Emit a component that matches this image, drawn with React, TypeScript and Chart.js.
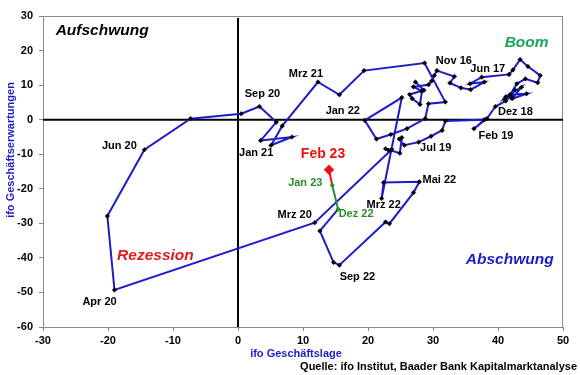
import React, { useEffect, useRef } from 'react';
import { Chart, registerables } from 'chart.js';

Chart.register(...registerables);

// ---- Data (ifo Geschäftslage vs. Geschäftserwartungen, Salden) ----
const months = [
  'Jan 16', 'Feb 16', 'Mrz 16', 'Apr 16', 'Mai 16', 'Jun 16', 'Jul 16', 'Aug 16', 'Sep 16', 'Okt 16', 'Nov 16', 'Dez 16',
  'Jan 17', 'Feb 17', 'Mrz 17', 'Apr 17', 'Mai 17', 'Jun 17', 'Jul 17', 'Aug 17', 'Sep 17', 'Okt 17', 'Nov 17', 'Dez 17',
  'Jan 18', 'Feb 18', 'Mrz 18', 'Apr 18', 'Mai 18', 'Jun 18', 'Jul 18', 'Aug 18', 'Sep 18', 'Okt 18', 'Nov 18', 'Dez 18',
  'Jan 19', 'Feb 19', 'Mrz 19', 'Apr 19', 'Mai 19', 'Jun 19', 'Jul 19', 'Aug 19', 'Sep 19', 'Okt 19', 'Nov 19', 'Dez 19',
  'Jan 20', 'Feb 20', 'Mrz 20', 'Apr 20', 'Mai 20', 'Jun 20', 'Jul 20', 'Aug 20', 'Sep 20', 'Okt 20', 'Nov 20', 'Dez 20',
  'Jan 21', 'Feb 21', 'Mrz 21', 'Apr 21', 'Mai 21', 'Jun 21', 'Jul 21', 'Aug 21', 'Sep 21', 'Okt 21', 'Nov 21', 'Dez 21',
  'Jan 22', 'Feb 22', 'Mrz 22', 'Apr 22', 'Mai 22', 'Jun 22', 'Jul 22', 'Aug 22', 'Sep 22', 'Okt 22', 'Nov 22', 'Dez 22',
  'Jan 23', 'Feb 23',
];

const geschaeftslage = [
  27.3, 28.6, 26.4, 26.8, 28.0, 28.3, 27.0, 29.3, 29.8, 30.2, 30.6, 33.3,
  32.6, 34.3, 35.8, 37.9, 35.7, 37.5, 41.7, 42.3, 43.4, 44.6, 46.5, 46.1,
  44.2, 42.9, 41.9, 44.4, 42.2, 43.6, 41.2, 42.6, 41.0, 42.0, 41.2, 39.6,
  38.3, 36.3, 37.9, 31.9, 31.4, 29.7, 27.8, 25.6, 24.8, 25.2, 24.9, 22.7,
  23.2, 23.6, 11.8, -19.0, -20.1, -14.4, -7.3, 0.5, 3.3, 5.9, 3.5, 8.3,
  5.1, 6.8, 12.3, 15.6, 19.4, 28.7, 31.9, 29.3, 28.8, 26.0, 23.5, 21.3,
  19.5, 25.2, 22.1, 22.4, 27.9, 27.0, 23.3, 22.7, 15.6, 14.7, 12.6, 15.4,
  14.5, 14.0,
];

const erwartungen = [
  10.9, 8.5, 7.3, 6.1, 4.4, 8.3, 9.5, 10.1, 11.2, 12.8, 14.2, 12.5,
  10.6, 9.2, 8.7, 10.9, 10.4, 12.3, 13.1, 14.4, 17.4, 15.4, 12.8, 10.7,
  11.8, 10.4, 7.3, 7.5, 6.1, 9.4, 6.6, 8.6, 6.0, 6.8, 5.4, 3.8,
  0.3, -2.6, 0.0, -0.4, -3.1, -4.8, -6.5, -7.4, -5.6, -5.2, -9.7, -8.4,
  -8.9, -8.7, -29.8, -49.3, -27.9, -8.7, 0.3, 1.7, 3.8, -0.7, -6.0, -5.0,
  -7.4, -1.8, 10.9, 7.2, 14.2, 16.4, 5.1, 4.6, 0.3, -2.6, -4.3, -5.6,
  -0.2, 6.4, -22.8, -18.2, -18.0, -21.1, -30.1, -29.6, -42.1, -41.3, -32.2, -25.9,
  -19.0, -14.5,
];

const xTicks = [-30, -20, -10, 0, 10, 20, 30, 40, 50];
const yTicks = [-60, -50, -40, -30, -20, -10, 0, 10, 20, 30];

const labelledMonths = ['Sep 20', 'Jun 20', 'Jan 21', 'Mrz 21', 'Jan 22', 'Nov 16', 'Jun 17', 'Dez 18', 'Feb 19', 'Jul 19', 'Mai 22', 'Mrz 22', 'Mrz 20', 'Sep 22', 'Apr 20'];
const greenMonths = ['Dez 22', 'Jan 23'];
const latestMonth = 'Feb 23';

const quadrantTexts = ['Aufschwung', 'Boom', 'Rezession', 'Abschwung'];
const xTitle = 'ifo Geschäftslage';
const yTitle = 'ifo Geschäftserwartungen';
const sourceText = 'Quelle: ifo Institut, Baader Bank Kapitalmarktanalyse';

// ---- Styles ----
const FONT = '"Liberation Sans", Arial, Helvetica, sans-serif';
const BLUE = '#1c1cc9';
const GREEN = '#2a8c2a';
const BOOM_GREEN = '#1aa65a';
const RED = '#ee1111';
const GRAY = '#8a8a8a';

// label offsets in pixels relative to the anchor point (text centre)
const labelOffsets: Record<string, [number, number]> = {
  'Sep 20': [3, -13],
  'Jun 20': [-25, -4],
  'Jan 21': [-15, 8],
  'Mrz 21': [-12, -8],
  'Jan 22': [-22, -9],
  'Nov 16': [17, -10],
  'Jun 17': [6, -8],
  'Dez 18': [20, 5],
  'Feb 19': [22, 7],
  'Jul 19': [17, 6],
  'Mai 22': [20, -2],
  'Mrz 22': [2, 7],
  'Mrz 20': [-20, -8],
  'Sep 22': [18, 12],
  'Apr 20': [-15, 12],
  'Dez 22': [18, 5],
  'Jan 23': [-27, -2],
  'Feb 23': [-6, -16],
};

// quadrant text placement in data space (centre)
const quadrantPos: Record<string, { x: number; y: number; color: string }> = {
  Aufschwung: { x: -20.9, y: 25.6, color: '#000000' },
  Boom: { x: 44.4, y: 22.4, color: BOOM_GREEN },
  Rezession: { x: -12.7, y: -39.5, color: '#e01a1a' },
  Abschwung: { x: 41.8, y: -40.4, color: BLUE },
};

export default function App() {
  const canvasRef = useRef<HTMLCanvasElement | null>(null);

  useEffect(() => {
    const canvas = canvasRef.current;
    if (!canvas) return;

    const idxDez22 = months.indexOf('Dez 22');
    const idxJan23 = months.indexOf('Jan 23');
    const idxFeb23 = months.indexOf(latestMonth);

    const pointColors = months.map((m, i) =>
      i === idxFeb23 ? RED : greenMonths.includes(m) ? GREEN : '#000000'
    );

    const overlay = {
      id: 'overlay',
      beforeDatasetsDraw(chart: any) {
        const { ctx, chartArea: a, scales } = chart;
        const x0 = scales.x.getPixelForValue(0);
        const y0 = scales.y.getPixelForValue(0);
        ctx.save();
        ctx.strokeStyle = GRAY;
        ctx.lineWidth = 1;
        ctx.strokeRect(a.left + 0.5, a.top + 0.5, a.right - a.left - 1, a.bottom - a.top);
        ctx.strokeStyle = '#000000';
        ctx.lineWidth = 2;
        ctx.beginPath();
        ctx.moveTo(x0, a.top + 2);
        ctx.lineTo(x0, a.bottom);
        ctx.moveTo(a.left, y0);
        ctx.lineTo(a.right, y0);
        ctx.stroke();
        ctx.restore();
      },
      afterDraw(chart: any) {
        const { ctx, scales } = chart;
        const px = (i: number) => scales.x.getPixelForValue(geschaeftslage[i]);
        const py = (i: number) => scales.y.getPixelForValue(erwartungen[i]);
        ctx.save();
        ctx.textAlign = 'center';
        ctx.textBaseline = 'middle';

        const drawLabel = (m: string, color: string, size: number) => {
          const i = months.indexOf(m);
          const off = labelOffsets[m] || [0, -10];
          ctx.font = `bold ${size}px ${FONT}`;
          ctx.fillStyle = color;
          ctx.fillText(m, px(i) + off[0], py(i) + off[1]);
        };
        labelledMonths.forEach((m) => drawLabel(m, '#000000', 11));
        greenMonths.forEach((m) => drawLabel(m, GREEN, 11));
        drawLabel(latestMonth, RED, 14);

        quadrantTexts.forEach((t) => {
          const q = quadrantPos[t];
          ctx.font = `italic bold 15.5px ${FONT}`;
          ctx.fillStyle = q.color;
          ctx.fillText(t, scales.x.getPixelForValue(q.x), scales.y.getPixelForValue(q.y));
        });

        ctx.font = `bold 11px ${FONT}`;
        ctx.fillStyle = BLUE;
        ctx.fillText(xTitle, 296, 354);

        ctx.save();
        ctx.translate(11, 150);
        ctx.rotate(-Math.PI / 2);
        ctx.fillText(yTitle, 0, 0);
        ctx.restore();

        ctx.fillStyle = '#000000';
        ctx.textAlign = 'right';
        ctx.fillText(sourceText, 577, 367);
        ctx.restore();
      },
    };

    const chart = new Chart(canvas, {
      type: 'scatter',
      data: {
        datasets: [
          {
            data: months.map((m, i) => ({ x: geschaeftslage[i], y: erwartungen[i] })),
            showLine: true,
            borderColor: BLUE,
            borderWidth: 2,
            tension: 0,
            segment: {
              borderColor: (c: any) =>
                c.p0DataIndex >= idxJan23 ? RED : c.p0DataIndex >= idxDez22 ? GREEN : BLUE,
            },
            pointStyle: 'rectRot',
            pointRadius: months.map((m, i) => (i === idxFeb23 ? 5 : 2.3)),
            pointBackgroundColor: pointColors,
            pointBorderColor: pointColors,
            pointBorderWidth: 0.5,
          } as any,
        ],
      },
      options: {
        animation: false,
        responsive: false,
        devicePixelRatio: 1,
        layout: { padding: { top: 16, right: 17, left: 0, bottom: 0 } },
        plugins: {
          legend: { display: false },
          tooltip: { enabled: false },
          title: { display: false },
        },
        scales: {
          x: {
            type: 'linear',
            min: -30,
            max: 50,
            afterBuildTicks: (s: any) => {
              s.ticks = xTicks.map((v) => ({ value: v }));
            },
            afterFit: (s: any) => {
              s.height = 48;
            },
            ticks: {
              color: '#000000',
              font: { family: FONT, size: 11, weight: 'bold' },
              padding: 3,
              maxRotation: 0,
            },
            grid: { drawOnChartArea: false, drawTicks: true, tickLength: 4, color: GRAY },
            border: { display: true, color: GRAY, width: 1 },
          },
          y: {
            type: 'linear',
            min: -60,
            max: 30,
            afterBuildTicks: (s: any) => {
              s.ticks = yTicks.map((v) => ({ value: v }));
            },
            afterFit: (s: any) => {
              s.width = 43;
            },
            ticks: {
              color: '#000000',
              font: { family: FONT, size: 11, weight: 'bold' },
              padding: 6,
            },
            grid: { drawOnChartArea: false, drawTicks: true, tickLength: 4, color: GRAY },
            border: { display: true, color: GRAY, width: 1 },
          },
        },
      } as any,
      plugins: [overlay],
    });

    return () => chart.destroy();
  }, []);

  return (
    <div style={{ position: 'fixed', left: 0, top: 0, width: 580, height: 375, background: '#ffffff' }}>
      <canvas ref={canvasRef} width={580} height={375} style={{ width: 580, height: 375, display: 'block' }} />
    </div>
  );
}
